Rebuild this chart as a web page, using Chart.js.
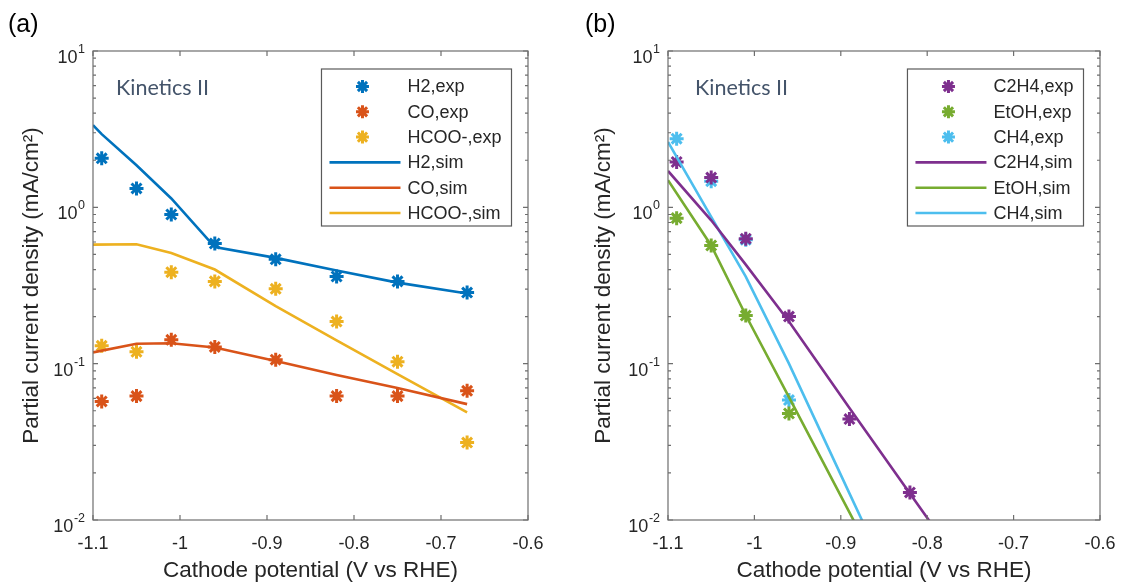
<!DOCTYPE html>
<html lang="en">
<head>
<meta charset="UTF-8">
<title>Partial current density vs cathode potential</title>
<script src="https://cdn.jsdelivr.net/npm/chart.js"></script>
<style>
  html, body { margin: 0; padding: 0; background: #fff; }
  #wrap { position: relative; width: 1123px; height: 582px; }
  .panel { position: absolute; top: 0; height: 582px; }
  #panelA { left: 0; width: 560px; }
  #panelB { left: 560px; width: 563px; }
</style>
</head>
<body>
<div id="wrap">
  <div class="panel" id="panelA"><canvas id="chartA"></canvas></div>
  <div class="panel" id="panelB"><canvas id="chartB"></canvas></div>
</div>
<script>
// ---- panel (a) data ----
const xExpA = [-1.09, -1.05, -1.01, -0.96, -0.89, -0.82, -0.75, -0.67];
const h2Exp = [2.06, 1.32, 0.90, 0.587, 0.465, 0.361, 0.336, 0.285];
const coExp = [0.0573, 0.062, 0.142, 0.128, 0.106, 0.062, 0.062, 0.067];
const hcooExp = [0.130, 0.119, 0.385, 0.336, 0.301, 0.186, 0.103, 0.0313];

const xH2Sim = [-1.1, -1.09, -1.05, -1.01, -0.96, -0.89, -0.82, -0.75, -0.67];
const h2Sim = [3.36, 2.94, 1.86, 1.14, 0.557, 0.475, 0.394, 0.33, 0.281];
const xSimA = [-1.1, -1.05, -1.01, -0.96, -0.89, -0.82, -0.75, -0.67];
const coSim = [0.118, 0.134, 0.135, 0.127, 0.104, 0.0845, 0.0698, 0.0551];
const hcooSim = [0.577, 0.58, 0.51, 0.40, 0.233, 0.141, 0.0857, 0.0488];

// ---- panel (b) data ----
const xExpB = [-1.09, -1.05, -1.01, -0.96, -0.89, -0.82];
const c2h4Exp = [1.95, 1.55, 0.63, 0.20, 0.0442, 0.015];
const etohExp = [0.853, 0.57, 0.203, 0.048];
const ch4Exp = [2.75, 1.47, 0.62, 0.0585];

const xSimB = [-1.1, -1.05, -1.01, -0.96, -0.89, -0.82, -0.75];
const c2h4Sim = [1.71, 0.826, 0.43, 0.186, 0.052, 0.0148, 0.0042];
const etohSim = [1.49, 0.57, 0.204, 0.061, 0.0112, 0.002];
const ch4Sim = [2.62, 0.87, 0.36, 0.10, 0.0148, 0.0022];

const xTicks = [-1.1, -1.0, -0.9, -0.8, -0.7, -0.6];
const yTicks = [0.01, 0.1, 1, 10];
const yTickExp = ['-2', '-1', '0', '1'];

const FONT = '"Liberation Sans", Arial, sans-serif';
const TXT = '#262626';
const AXC = '#6e6e6e';

function pts(xs, ys) {
  return ys.map((v, i) => ({ x: xs[i], y: v }));
}
function expSet(label, xs, ys, color) {
  return { type: 'scatter', label, data: pts(xs, ys), showLine: false,
    pointStyle: 'star', pointRadius: 7, pointBorderWidth: 3,
    borderColor: color, backgroundColor: color, order: 2, kind: 'exp' };
}
function simSet(label, xs, ys, color) {
  return { type: 'line', label, data: pts(xs, ys), borderColor: color,
    backgroundColor: color, borderWidth: 2.6, pointRadius: 0, tension: 0,
    order: 1, kind: 'sim' };
}

// MATLAB-like box, inward ticks, 10^n labels, legend and annotations
const matlabAxes = {
  id: 'matlabAxes',
  afterDraw(chart, args, o) {
    const { ctx, chartArea: a, scales: { x, y } } = chart;
    ctx.save();
    ctx.strokeStyle = AXC;
    ctx.lineWidth = 1.2;
    ctx.strokeRect(a.left, a.top, a.right - a.left, a.bottom - a.top);
    ctx.beginPath();
    x.ticks.forEach(t => {
      const px = x.getPixelForValue(t.value);
      ctx.moveTo(px, a.bottom); ctx.lineTo(px, a.bottom - 5);
      ctx.moveTo(px, a.top); ctx.lineTo(px, a.top + 5);
    });
    for (let k = -2; k <= 1; k++) {
      for (let m = 1; m <= 9; m++) {
        const v = m * Math.pow(10, k);
        if (v > 10.0001) break;
        const py = y.getPixelForValue(v);
        const len = m === 1 ? 5 : 3;
        ctx.moveTo(a.left, py); ctx.lineTo(a.left + len, py);
        ctx.moveTo(a.right, py); ctx.lineTo(a.right - len, py);
      }
    }
    ctx.stroke();

    // y tick labels 10^n
    ctx.fillStyle = TXT;
    ctx.textAlign = 'right';
    ctx.textBaseline = 'alphabetic';
    yTicks.forEach((v, i) => {
      const py = y.getPixelForValue(v);
      ctx.font = '12.5px ' + FONT;
      const ex = yTickExp[i];
      const ew = ctx.measureText(ex).width;
      const r = a.left - 8;
      ctx.fillText(ex, r, py + 2);
      ctx.font = '18px ' + FONT;
      ctx.fillText('10', r - ew - 0.5, py + 12);
    });

    // panel label and note
    ctx.fillStyle = '#000';
    ctx.font = '25px ' + FONT;
    ctx.textBaseline = 'middle';
    ctx.textAlign = 'left';
    ctx.fillText(o.panel, o.panelX, 25);
    ctx.fillStyle = '#44546A';
    ctx.font = '21.5px Lato, "Open Sans", sans-serif';
    ctx.fillText('Kinetics II', a.left + o.noteDx, 88);

    // legend box
    const sets = chart.data.datasets;
    ctx.font = '18px ' + FONT;
    let maxW = 0;
    sets.forEach(d => { maxW = Math.max(maxW, ctx.measureText(d.label).width); });
    const boxW = 86 + maxW + 10;
    const boxR = a.right - 16.5;
    const boxL = boxR - boxW;
    const boxT = a.top + 18;
    const rowH = 25.3;
    const boxH = 157;
    ctx.fillStyle = '#fff';
    ctx.fillRect(boxL, boxT, boxW, boxH);
    ctx.strokeStyle = '#5a5a5a';
    ctx.lineWidth = 1.2;
    ctx.strokeRect(boxL, boxT, boxW, boxH);
    sets.forEach((d, i) => {
      const cy = boxT + 17.5 + i * rowH;
      ctx.strokeStyle = d.borderColor;
      if (d.kind === 'exp') {
        ctx.lineWidth = 3;
        ctx.beginPath();
        for (let j = 0; j < 4; j++) {
          const ang = j * Math.PI / 4;
          const dx = Math.cos(ang) * 6.5, dy = Math.sin(ang) * 6.5;
          ctx.moveTo(boxL + 41 - dx, cy - dy);
          ctx.lineTo(boxL + 41 + dx, cy + dy);
        }
        ctx.stroke();
      } else {
        ctx.lineWidth = 2.6;
        ctx.beginPath();
        ctx.moveTo(boxL + 8, cy); ctx.lineTo(boxL + 79, cy);
        ctx.stroke();
      }
      ctx.fillStyle = TXT;
      ctx.fillText(d.label, boxL + 86, cy + 1);
    });
    ctx.restore();
  }
};

function makeChart(id, datasets, o) {
  return new Chart(document.getElementById(id), {
    data: { datasets },
    plugins: [matlabAxes],
    options: {
      responsive: true,
      maintainAspectRatio: false,
      animation: false,
      layout: { padding: { left: 0, right: o.padRight, top: 51, bottom: 0 } },
      plugins: {
        legend: { display: false },
        tooltip: { enabled: false },
        matlabAxes: o
      },
      scales: {
        x: {
          type: 'linear', min: -1.1, max: -0.6,
          afterBuildTicks: s => { s.ticks = xTicks.map(v => ({ value: v })); },
          afterFit: s => { s.height = 62; },
          grid: { display: false }, border: { display: false },
          ticks: { color: TXT, font: { family: FONT, size: 18 }, padding: 5,
            maxRotation: 0, autoSkip: false,
            callback: v => String(+v.toFixed(2)) },
          title: { display: true, text: 'Cathode potential (V vs RHE)', color: TXT,
            font: { family: FONT, size: 22.5, lineHeight: 1 }, padding: { top: 0, bottom: 0 } }
        },
        y: {
          type: 'logarithmic', min: 0.01, max: 10,
          afterBuildTicks: s => { s.ticks = yTicks.map(v => ({ value: v })); },
          afterFit: s => { s.width = o.yWidth; },
          grid: { display: false }, border: { display: false },
          ticks: { display: false },
          title: { display: true, text: 'Partial current density (mA/cm\u00B2)', color: TXT,
            font: { family: FONT, size: 22.5, lineHeight: 1 }, padding: { top: o.yTitlePad, bottom: 0 } }
        }
      }
    }
  });
}

makeChart('chartA', [
  expSet('H2,exp', xExpA, h2Exp, '#0072BD'),
  expSet('CO,exp', xExpA, coExp, '#D95319'),
  expSet('HCOO-,exp', xExpA, hcooExp, '#EDB120'),
  simSet('H2,sim', xH2Sim, h2Sim, '#0072BD'),
  simSet('CO,sim', xSimA, coSim, '#D95319'),
  simSet('HCOO-,sim', xSimA, hcooSim, '#EDB120')
], { panel: '(a)', panelX: 8, noteDx: 23, yWidth: 93, padRight: 32, yTitlePad: 21 });

makeChart('chartB', [
  expSet('C2H4,exp', xExpB, c2h4Exp, '#7E2F8E'),
  expSet('EtOH,exp', xExpB.slice(0, 4), etohExp, '#77AC30'),
  expSet('CH4,exp', xExpB.slice(0, 4), ch4Exp, '#4DBEEE'),
  simSet('C2H4,sim', xSimB, c2h4Sim, '#7E2F8E'),
  simSet('EtOH,sim', xSimB.slice(0, 6), etohSim, '#77AC30'),
  simSet('CH4,sim', xSimB.slice(0, 6), ch4Sim, '#4DBEEE')
], { panel: '(b)', panelX: 25, noteDx: 27, yWidth: 108, padRight: 23, yTitlePad: 33 });
</script>
</body>
</html>
